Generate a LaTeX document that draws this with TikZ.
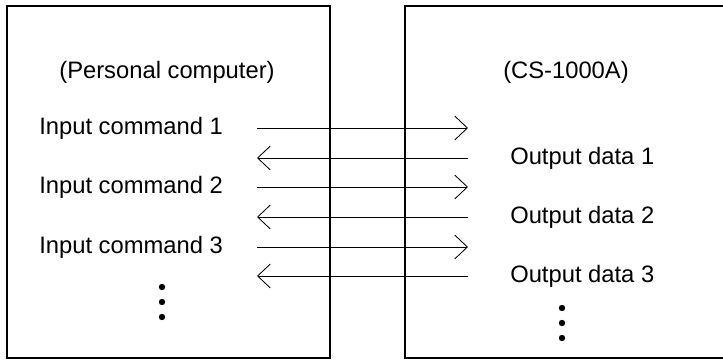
\documentclass[tikz,border=0pt]{standalone}
\usepackage{fontspec}
\setmainfont{Liberation Sans}
\usetikzlibrary{arrows.meta, positioning}

\begin{document}
\begin{tikzpicture}[x=0.025cm, y=-0.025cm,
  unit/.style={draw, line width=0.9pt},
  lbl/.style={font=\fontsize{16.9}{20}\selectfont, inner sep=0pt},
  msg/.style={line width=0.6pt, -{Straight Barb[length=9pt, width=17pt, line width=0.6pt]}}
]
  \useasboundingbox (0,0) rectangle (723,360);

  % Two units
  \draw[unit] (7,6) rectangle (330,358);
  \draw[unit] (405,6) rectangle (730,358);

  % Titles
  \node[lbl] (pc) at (167,72) {(Personal computer)};
  \node[lbl] (cs) at (566,72) {(CS-1000A)};

  % Commands and data
  \foreach \i/\y in {1/128, 2/187, 3/247} {
    \node[lbl, anchor=west] (cmd\i) at (39,\y) {Input command \i};
    \coordinate (ca\i) at (257,\y);
    \coordinate (cb\i) at (468,\y);
  }
  \foreach \i/\y in {1/158, 2/217, 3/276} {
    \node[lbl, anchor=west] (out\i) at (510,\y) {Output data \i};
    \coordinate (da\i) at (468,\y);
    \coordinate (db\i) at (257,\y);
  }

  % Messages
  \foreach \i in {1,2,3} {
    \draw[msg] (ca\i) -- (cb\i);
    \draw[msg] (da\i) -- (db\i);
  }

  % Continuation dots
  \foreach \y in {287,302,317} \fill (162,\y) circle (3.2);
  \foreach \y in {308,323,338} \fill (562,\y) circle (3.2);
\end{tikzpicture}
\end{document}
